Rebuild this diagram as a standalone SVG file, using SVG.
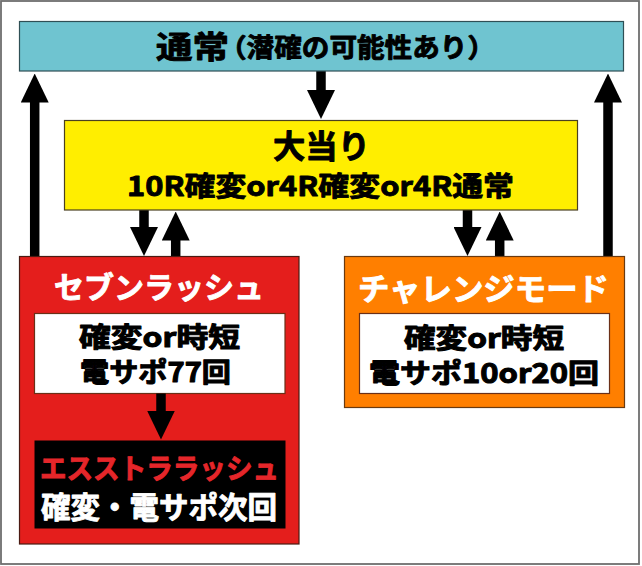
<svg xmlns="http://www.w3.org/2000/svg" width="642" height="566" viewBox="0 0 642 566">
<style>
.t{font-family:"Noto Sans CJK JP","Noto Sans CJK SC",sans-serif;font-weight:700;stroke-width:0.9;stroke-linejoin:round;}
.k{fill:#000;stroke:#000;}
.w{fill:#fff;stroke:#fff;}
.r{fill:#e5262a;stroke:#e5262a;}
.box{stroke-width:1.2;}
.arr{stroke:#000;stroke-width:9.5;fill:none;marker-end:url(#ah);}
</style>
<defs>
<marker id="ah" markerUnits="userSpaceOnUse" viewBox="0 0 29 28" markerWidth="29" markerHeight="28" refX="0.5" refY="14" orient="auto">
<path d="M0,0 L29,14 L0,28 Z" fill="#000"/>
</marker>
</defs>
<rect x="0" y="0" width="642" height="566" fill="#fff"/>
<rect x="1" y="1" width="638" height="563" fill="none" stroke="#6e6e6e" stroke-width="1.8"/>

<g id="connectors">
<line class="arr" x1="34.7" y1="257" x2="34.7" y2="102"/>
<line class="arr" x1="608" y1="257" x2="608" y2="102"/>
<line class="arr" x1="321" y1="71" x2="321" y2="90.5"/>
<line class="arr" x1="144" y1="210" x2="144" y2="227.5"/>
<line class="arr" x1="175.7" y1="257" x2="175.7" y2="240"/>
<line class="arr" x1="467.5" y1="210" x2="467.5" y2="227.5"/>
<line class="arr" x1="499.7" y1="257" x2="499.7" y2="240"/>
</g>

<g id="normal">
<rect class="box" x="19.5" y="21.5" width="604" height="49.5" fill="#6fc4d0" stroke="#2f4f55"/>
<text class="t k" x="156" y="58" font-size="31" textLength="73" lengthAdjust="spacingAndGlyphs">通常</text>
<text class="t k" x="219" y="57" font-size="26" textLength="276" lengthAdjust="spacingAndGlyphs">（潜確の可能性あり）</text>
</g>

<g id="jackpot">
<rect class="box" x="64.5" y="120.5" width="513" height="89.5" fill="#ffee00" stroke="#4a4020"/>
<text class="t k" x="273" y="158" font-size="32" textLength="97" lengthAdjust="spacingAndGlyphs">大当り</text>
<text class="t k" x="127" y="196" font-size="27" textLength="387" lengthAdjust="spacingAndGlyphs">10R確変or4R確変or4R通常</text>
</g>

<g id="seven-rush">
<rect class="box" x="19.5" y="256.5" width="279.5" height="287.5" fill="#e41e1c" stroke="#4a1a12"/>
<text class="t w" x="54" y="298" font-size="30" textLength="210" lengthAdjust="spacingAndGlyphs">セブンラッシュ</text>
<g id="seven-inner">
<rect class="box" x="34.5" y="313.5" width="250.5" height="80" fill="#fff" stroke="#6a3018"/>
<text class="t k" transform="translate(79,347) scale(1,1.15)" font-size="23.5" textLength="161" lengthAdjust="spacingAndGlyphs">確変or時短</text>
<text class="t k" transform="translate(80,382) scale(1,1.15)" font-size="23.5" textLength="151" lengthAdjust="spacingAndGlyphs">電サポ77回</text>
</g>
</g>

<g id="inner-connector">
<line class="arr" x1="161" y1="393.5" x2="161" y2="411"/>
</g>

<g id="extra-rush">
<rect x="34.5" y="440.5" width="251" height="88" fill="#000"/>
<text class="t r" x="40" y="479" font-size="28" textLength="239" lengthAdjust="spacingAndGlyphs">エスストララッシュ</text>
<text class="t w" x="41" y="518" font-size="30" textLength="236" lengthAdjust="spacingAndGlyphs">確変・電サポ次回</text>
</g>

<g id="challenge-mode">
<rect class="box" x="344.5" y="256.5" width="280" height="151" fill="#ff7f00" stroke="#6a3a10"/>
<text class="t w" x="358" y="300" font-size="31" textLength="251" lengthAdjust="spacingAndGlyphs">チャレンジモード</text>
<g id="challenge-inner">
<rect class="box" x="359.5" y="313.5" width="250" height="80" fill="#fff" stroke="#6a3018"/>
<text class="t k" transform="translate(404,348) scale(1,1.15)" font-size="23.5" textLength="160" lengthAdjust="spacingAndGlyphs">確変or時短</text>
<text class="t k" transform="translate(369,383) scale(1,1.15)" font-size="23.5" textLength="230" lengthAdjust="spacingAndGlyphs">電サポ10or20回</text>
</g>
</g>
</svg>
